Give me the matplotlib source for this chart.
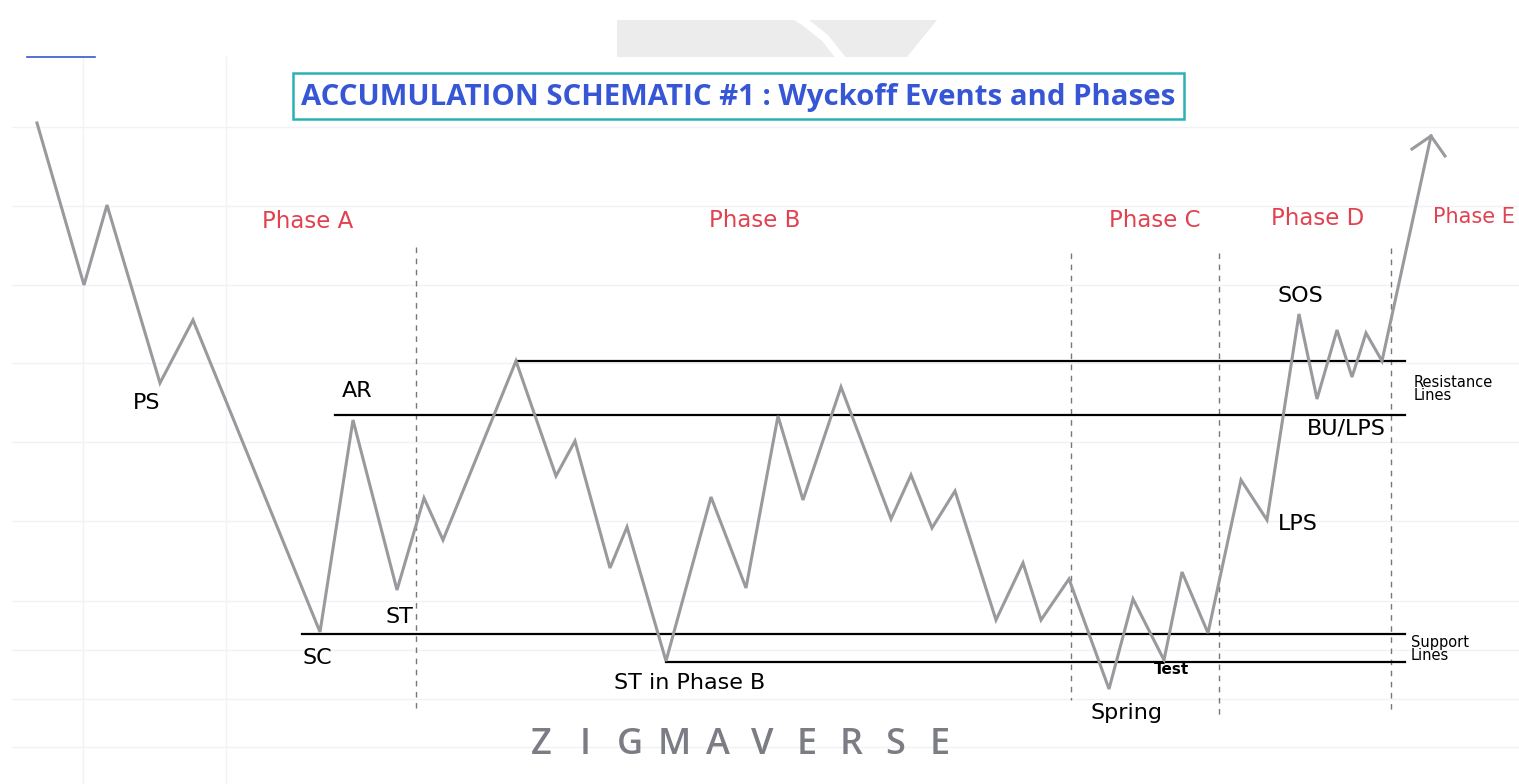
import matplotlib
matplotlib.use("Agg")
import matplotlib.pyplot as plt
from matplotlib.patches import Rectangle, Polygon

# Price path of the schematic (x, y in picture units, y grows downward)
path_x = [37, 84, 107, 160, 193, 320, 353, 397, 424, 443, 516, 556, 575, 610, 627,
          666, 711, 746, 778, 803, 841, 891, 911, 932, 955, 996, 1023, 1041, 1069,
          1109, 1133, 1164, 1182, 1208, 1241, 1267, 1299, 1317, 1337, 1352, 1366,
          1382, 1431]
path_y = [123, 285, 205, 383, 320, 632, 420, 590, 498, 540, 361, 476, 441, 568, 527,
          661, 497, 588, 416, 500, 387, 519, 475, 528, 491, 620, 563, 620, 579,
          689, 599, 660, 572, 633, 480, 520, 314, 399, 330, 377, 333,
          361, 136]

# Horizontal resistance / support levels: (y, x_start, x_end)
level_y = [361, 415, 634, 662]
level_x0 = [516, 335, 302, 666]
level_x1 = [1405, 1405, 1405, 1405]

# Phase separators
phase_sep_x = [416, 1071, 1219, 1391]
phase_sep_top = [247, 253, 253, 248]
phase_sep_bot = [708, 700, 718, 712]

phase_names = ["Phase A", "Phase B", "Phase C", "Phase D", "Phase E"]
event_names = ["PS", "AR", "ST", "SC", "ST in Phase B", "Spring", "LPS", "BU/LPS", "SOS"]

title = "ACCUMULATION SCHEMATIC #1 : Wyckoff Events and Phases"
watermark = "ZIGMAVERSE"

W, H = 1519, 784
fig = plt.figure(figsize=(W / 100, H / 100), dpi=100)
ax = fig.add_axes([0, 0, 1, 1])
ax.set_xlim(0, W)
ax.set_ylim(H, 0)
ax.axis("off")

# faint background grid
grid_y = [127, 206, 285, 363, 442, 521, 601, 650, 699, 747]
for gy in grid_y:
    ax.plot([12, W], [gy, gy], color="#f1f2f5", lw=1, zorder=0)
for gx in [83, 226]:
    ax.plot([gx, gx], [57, H], color="#f1f2f5", lw=1, zorder=0)

# top decorations
ax.plot([27, 95], [57, 57], color="#3a57c8", lw=1.2)
ax.add_patch(Polygon([[617, 20], [937, 20], [907, 57], [617, 57]],
                     closed=True, facecolor="#ececec", edgecolor="none", zorder=0))
ax.plot([783, 805, 825, 840], [8, 22, 38, 57], color="white", lw=6, zorder=0.5)

# levels
for y, x0, x1 in zip(level_y, level_x0, level_x1):
    ax.plot([x0, x1], [y, y], color="black", lw=1.6, zorder=2)

# phase separators
for x, t, b in zip(phase_sep_x, phase_sep_top, phase_sep_bot):
    ax.plot([x, x], [t, b], color="#777777", lw=1, ls=(0, (4, 4)), zorder=1)

# price path
ax.plot(path_x, path_y, color="#9a9a9e", lw=2.2, solid_joinstyle="miter", zorder=3)
ax.plot([1412, path_x[-1], 1445], [149, path_y[-1], 156], color="#9a9a9e", lw=2.2,
        solid_joinstyle="miter", zorder=3)

# title
ax.add_patch(Rectangle((293, 73), 891, 46, facecolor="white", edgecolor="#2bb1b3",
                       lw=1.8, zorder=4))
ax.text(738, 97, title, ha="center", va="center", fontsize=21.2, fontweight="bold",
        color="#3656d6", family="Open Sans", zorder=5)

# phase labels
phase_xy = [(308, 221), (755, 220), (1155, 220), (1318, 218), (1515, 217)]
phase_ha = ["center", "center", "center", "center", "right"]
phase_fs = [16.5, 16.5, 16.5, 16.5, 15]
for name, (x, y), ha, fs in zip(phase_names, phase_xy, phase_ha, phase_fs):
    ax.text(x, y, name, ha=ha, va="center", fontsize=fs, color="#e0424f",
            family="DejaVu Sans")

# event labels
event_xy = [(147, 403), (357, 391), (399, 617), (317, 658), (690, 683),
            (1127, 713), (1298, 524), (1346, 428), (1300, 296)]
for name, (x, y) in zip(event_names, event_xy):
    ax.text(x, y, name, ha="center", va="center", fontsize=16, color="black",
            family="DejaVu Sans", zorder=5)
ax.text(1172, 670, "Test", ha="center", va="center", fontsize=11, color="black",
        fontweight="bold", family="DejaVu Sans", zorder=5)

# line notes
ax.text(1414, 389, "Resistance\nLines", ha="left", va="center", fontsize=10.5,
        linespacing=0.9, family="DejaVu Sans")
ax.text(1411, 649, "Support\nLines", ha="left", va="center", fontsize=10.5,
        linespacing=0.9, family="DejaVu Sans")

# watermark
for i, ch in enumerate(watermark):
    ax.text(541 + i * 44.3, 745, ch, ha="center", va="center", fontsize=26,
            color="#7b7c84", family="Open Sans", fontweight="semibold")

fig.savefig("out.png", dpi=100)
